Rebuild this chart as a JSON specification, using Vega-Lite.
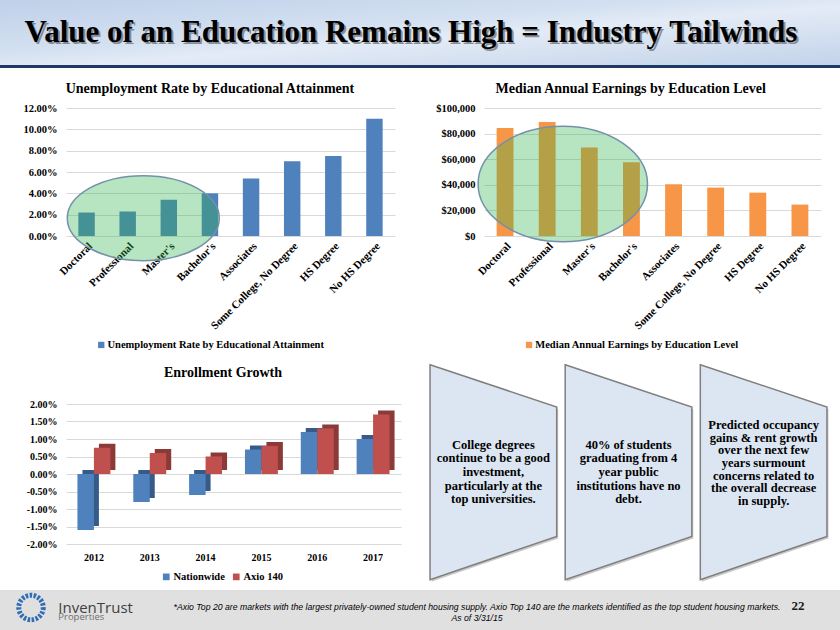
{
  "$schema": "https://vega.github.io/schema/vega-lite/v6.json",
  "padding": 0,
  "autosize": {"type": "pad"},
  "background": "white",
  "spacing": 2,
  "resolve": {"scale": {"color": "independent"}, "legend": {"color": "independent"}},
  "config": {
    "view": {"stroke": null},
    "font": "Liberation Serif",
    "axis": {"labelFont": "Liberation Serif", "labelFontWeight": "bold", "labelColor": "#000000", "domain": false, "ticks": false, "gridColor": "#d9d9d9", "labelFlush": false, "labelOverlap": false},
    "legend": {"labelFont": "Liberation Serif", "labelFontWeight": "bold", "labelColor": "#000000", "padding": 0, "labelLimit": 400},
    "title": {"font": "Liberation Serif", "fontWeight": "bold", "color": "#000000"}
  },
  "vconcat": [
    {
      "width": 774,
      "height": 79,
      "data": {"values": [{"t": "Value of an Education Remains High = Industry Tailwinds"}]},
      "layer": [
        {
          "mark": {"type": "rect", "fill": {"gradient": "linear", "x1": 0, "y1": 0, "x2": 1, "y2": 1, "stops": [{"offset": 0, "color": "#bfd0e9"}, {"offset": 0.4, "color": "#d3e0f1"}, {"offset": 0.55, "color": "#e3ebf6"}, {"offset": 1, "color": "#c3d3ea"}]}},
          "encoding": {
            "x": {"datum": 0, "type": "quantitative", "scale": {"domain": [0.078571, 1], "nice": false, "zero": false}, "axis": null},
            "x2": {"datum": 1},
            "y": {"datum": 0, "type": "quantitative", "scale": {"domain": [0.125397, 0], "nice": false, "zero": false}, "axis": null},
            "y2": {"datum": 0.103175}
          }
        },
        {
          "mark": {"type": "rect", "fill": "#1f3864"},
          "encoding": {
            "x": {"datum": 0, "type": "quantitative"},
            "x2": {"datum": 1},
            "y": {"datum": 0.103175, "type": "quantitative"},
            "y2": {"datum": 0.107937}
          }
        },
        {
          "mark": {"type": "text", "font": "Liberation Serif", "fontWeight": "bold", "fontSize": 31, "align": "center", "baseline": "alphabetic", "color": "#555555", "opacity": 0.6, "dx": 2, "dy": 2},
          "encoding": {
            "x": {"datum": 0.4893, "type": "quantitative"},
            "y": {"datum": 0.066667, "type": "quantitative"},
            "text": {"field": "t"}
          }
        },
        {
          "mark": {"type": "text", "font": "Liberation Serif", "fontWeight": "bold", "fontSize": 31, "align": "center", "baseline": "alphabetic", "color": "#000000"},
          "encoding": {
            "x": {"datum": 0.4893, "type": "quantitative"},
            "y": {"datum": 0.066667, "type": "quantitative"},
            "text": {"field": "t"}
          }
        }
      ]
    },
    {
      "spacing": 25,
      "resolve": {"scale": {"color": "independent"}, "legend": {"color": "independent"}},
      "hconcat": [
        {
          "width": 329,
          "height": 128,
          "title": {"text": "Unemployment Rate by Educational Attainment", "fontSize": 14, "offset": 7.3, "dx": -20.5},
          "data": {"values": [
            {"level": "Doctoral", "rate": 0.022},
            {"level": "Professional", "rate": 0.023},
            {"level": "Master's", "rate": 0.034},
            {"level": "Bachelor's", "rate": 0.040},
            {"level": "Associates", "rate": 0.054},
            {"level": "Some College, No Degree", "rate": 0.070},
            {"level": "HS Degree", "rate": 0.075},
            {"level": "No HS Degree", "rate": 0.110}
          ]},
          "layer": [
            {
              "mark": {"type": "bar"},
              "encoding": {
                "x": {"field": "level", "type": "nominal", "sort": null, "title": null,
                  "scale": {"domain": ["Doctoral", "Professional", "Master's", "Bachelor's", "Associates", "Some College, No Degree", "HS Degree", "No HS Degree"], "paddingInner": 0.6, "paddingOuter": 0.3},
                  "axis": {"labelAngle": -45, "labelFontSize": 11, "labelPadding": 4, "labelOverlap": false}},
                "y": {"field": "rate", "type": "quantitative", "title": null,
                  "scale": {"domain": [0, 0.12], "nice": false},
                  "axis": {"format": ".2%", "values": [0, 0.02, 0.04, 0.06, 0.08, 0.1, 0.12], "labelOverlap": false, "labelFontSize": 10.5, "labelPadding": 9, "minExtent": 66, "maxExtent": 66, "grid": true}},
                "color": {"datum": "Unemployment Rate by Educational Attainment", "scale": {"range": ["#4f81bd"]},
                  "legend": {"orient": "none", "legendX": 22, "legendY": 223.7, "padding": 8, "title": null, "symbolType": "square", "symbolSize": 40, "labelFontSize": 10.5, "labelOffset": 1}}
              }
            },
            {
              "transform": [{"filter": "datum.level === 'Professional'"}],
              "mark": {"type": "point", "shape": "M-1,0A1,0.559,0,1,0,1,0A1,0.559,0,1,0,-1,0Z", "size": 23104, "filled": true, "fill": "#2eb34a", "fillOpacity": 0.34, "stroke": "#7391ab", "strokeWidth": 1.5, "strokeOpacity": 1, "opacity": 1},
              "encoding": {
                "x": {"field": "level", "type": "nominal", "sort": null, "title": null, "bandPosition": 1.449,
                  "scale": {"domain": ["Doctoral", "Professional", "Master's", "Bachelor's", "Associates", "Some College, No Degree", "HS Degree", "No HS Degree"], "paddingInner": 0.6, "paddingOuter": 0.3},
                  "axis": {"labelAngle": -45, "labelFontSize": 11, "labelPadding": 4, "labelOverlap": false}},
                "y": {"datum": 0.0167, "type": "quantitative", "title": null,
                  "scale": {"domain": [0, 0.12], "nice": false},
                  "axis": {"format": ".2%", "values": [0, 0.02, 0.04, 0.06, 0.08, 0.1, 0.12], "labelOverlap": false, "labelFontSize": 10.5, "labelPadding": 9, "minExtent": 66, "maxExtent": 66, "grid": true}}
              }
            }
          ]
        },
        {
          "width": 337,
          "height": 128,
          "title": {"text": "Median Annual Earnings by Education Level", "fontSize": 14, "offset": 7.3, "dx": -21.8},
          "data": {"values": [
            {"level": "Doctoral", "earnings": 84396},
            {"level": "Professional", "earnings": 89128},
            {"level": "Master's", "earnings": 69108},
            {"level": "Bachelor's", "earnings": 57616},
            {"level": "Associates", "earnings": 40404},
            {"level": "Some College, No Degree", "earnings": 37804},
            {"level": "HS Degree", "earnings": 33852},
            {"level": "No HS Degree", "earnings": 24544}
          ]},
          "layer": [
            {
              "mark": {"type": "bar"},
              "encoding": {
                "x": {"field": "level", "type": "nominal", "sort": null, "title": null,
                  "scale": {"domain": ["Doctoral", "Professional", "Master's", "Bachelor's", "Associates", "Some College, No Degree", "HS Degree", "No HS Degree"], "paddingInner": 0.6, "paddingOuter": 0.3},
                  "axis": {"labelAngle": -45, "labelFontSize": 11, "labelPadding": 4, "labelOverlap": false}},
                "y": {"field": "earnings", "type": "quantitative", "title": null,
                  "scale": {"domain": [0, 100000], "nice": false},
                  "axis": {"format": "$,.0f", "values": [0, 20000, 40000, 60000, 80000, 100000], "labelOverlap": false, "labelFontSize": 10.5, "labelPadding": 9, "minExtent": 63.2, "maxExtent": 63.2, "grid": true}},
                "color": {"datum": "Median Annual Earnings by Education Level", "scale": {"range": ["#f79646"]},
                  "legend": {"orient": "none", "legendX": 31.8, "legendY": 223.7, "padding": 8, "title": null, "symbolType": "square", "symbolSize": 40, "labelFontSize": 10.5, "labelOffset": 1}}
              }
            },
            {
              "transform": [{"filter": "datum.level === 'Professional'"}],
              "mark": {"type": "point", "shape": "M-1,0A1,0.681,0,1,0,1,0A1,0.681,0,1,0,-1,0Z", "size": 28700, "filled": true, "fill": "#2eb34a", "fillOpacity": 0.34, "stroke": "#7391ab", "strokeWidth": 1.5, "strokeOpacity": 1, "opacity": 1},
              "encoding": {
                "x": {"field": "level", "type": "nominal", "sort": null, "title": null, "bandPosition": 1.427,
                  "scale": {"domain": ["Doctoral", "Professional", "Master's", "Bachelor's", "Associates", "Some College, No Degree", "HS Degree", "No HS Degree"], "paddingInner": 0.6, "paddingOuter": 0.3},
                  "axis": {"labelAngle": -45, "labelFontSize": 11, "labelPadding": 4, "labelOverlap": false}},
                "y": {"datum": 40625, "type": "quantitative", "title": null,
                  "scale": {"domain": [0, 100000], "nice": false},
                  "axis": {"format": "$,.0f", "values": [0, 20000, 40000, 60000, 80000, 100000], "labelOverlap": false, "labelFontSize": 10.5, "labelPadding": 9, "minExtent": 63.2, "maxExtent": 63.2, "grid": true}}
              }
            }
          ]
        }
      ]
    },
    {
      "spacing": 19,
      "resolve": {"scale": {"color": "independent"}, "legend": {"color": "independent"}},
      "hconcat": [
        {
          "width": 335,
          "height": 140,
          "title": {"text": "Enrollment Growth", "fontSize": 14, "offset": 19.3, "dx": -10.5},
          "data": {"values": [
            {"year": "2012", "series": "Nationwide", "growth": -0.016},
            {"year": "2012", "series": "Axio 140", "growth": 0.0075},
            {"year": "2013", "series": "Nationwide", "growth": -0.008},
            {"year": "2013", "series": "Axio 140", "growth": 0.006},
            {"year": "2014", "series": "Nationwide", "growth": -0.006},
            {"year": "2014", "series": "Axio 140", "growth": 0.005},
            {"year": "2015", "series": "Nationwide", "growth": 0.007},
            {"year": "2015", "series": "Axio 140", "growth": 0.008},
            {"year": "2016", "series": "Nationwide", "growth": 0.012},
            {"year": "2016", "series": "Axio 140", "growth": 0.013},
            {"year": "2017", "series": "Nationwide", "growth": 0.010},
            {"year": "2017", "series": "Axio 140", "growth": 0.017}
          ]},
          "encoding": {
            "x": {"field": "year", "type": "ordinal", "title": null,
              "scale": {"paddingInner": 0.41, "paddingOuter": 0.205},
              "axis": {"labelAngle": 0, "labelFontSize": 10, "labelPadding": 8}},
            "y": {"field": "growth", "type": "quantitative", "title": null,
              "scale": {"domain": [-0.02, 0.02], "nice": false},
              "axis": {"values": [-0.02, -0.015, -0.01, -0.005, 0, 0.005, 0.01, 0.015, 0.02], "labelExpr": "replace(format(datum.value, '.2%'), '\u2212', '-')", "labelOverlap": false, "labelFontSize": 10, "labelPadding": 9, "minExtent": 66, "maxExtent": 66, "grid": true}}
          },
          "resolve": {"scale": {"xOffset": "independent"}},
          "layer": [
            {
              "mark": {"type": "bar", "yOffset": -4},
              "encoding": {
                "xOffset": {"field": "series", "type": "nominal", "sort": ["Nationwide", "Axio 140"], "scale": {"domain": ["Nationwide", "Axio 140"], "paddingInner": 0, "paddingOuter": 0, "range": [5, 37.94]}},
                "fill": {"condition": {"test": "datum.series === 'Nationwide'", "value": "#375b88"}, "value": "#8c3a38"}
              }
            },
            {
              "mark": {"type": "bar"},
              "encoding": {
                "xOffset": {"field": "series", "type": "nominal", "sort": ["Nationwide", "Axio 140"], "scale": {"domain": ["Nationwide", "Axio 140"], "paddingInner": 0, "paddingOuter": 0}},
                "color": {"field": "series", "type": "nominal", "sort": ["Nationwide", "Axio 140"],
                  "scale": {"domain": ["Nationwide", "Axio 140"], "range": ["#4f81bd", "#c0504d"]},
                  "legend": {"orient": "none", "direction": "horizontal", "legendX": 95, "legendY": 167.5, "title": null, "symbolType": "square", "symbolSize": 45, "labelFontSize": 10.5, "labelOffset": 2, "columnPadding": 6}}
              }
            }
          ]
        },
        {
          "width": 417,
          "height": 136.4,
          "data": {"values": [
            {"box": 1, "text": "College degrees\ncontinue to be a good\ninvestment,\nparticularly at the\ntop universities."},
            {"box": 2, "text": "40% of students\ngraduating from 4\nyear public\ninstitutions have no\ndebt."},
            {"box": 3, "text": "Predicted occupancy\ngains & rent growth\nover the next few\nyears surmount\nconcerns related to\nthe overall decrease\nin supply."}
          ]},
          "encoding": {
            "x": {"field": "box", "type": "ordinal", "scale": {"type": "point", "padding": 0.543}, "axis": null}
          },
          "layer": [
            {
              "mark": {"type": "point", "shape": "M-0.589,-1L0.589,-0.607L0.589,0.597L-0.589,1Z", "size": 46225, "filled": true, "fill": "#8a8a8a", "opacity": 0.45, "strokeWidth": 0, "xOffset": 1.5, "yOffset": 2}
            },
            {
              "mark": {"type": "point", "shape": "M-0.589,-1L0.589,-0.607L0.589,0.597L-0.589,1Z", "size": 46225, "filled": true, "fill": "#dce6f2", "stroke": "#7f7f7f", "strokeWidth": 1.5, "opacity": 1}
            },
            {
              "transform": [{"filter": "datum.box < 3"}],
              "mark": {"type": "text", "lineBreak": "\n", "lineHeight": 13.6, "fontSize": 12.5, "fontWeight": "bold", "font": "Liberation Serif", "align": "center", "baseline": "middle", "color": "#000000", "dy": -27.3},
              "encoding": {"text": {"field": "text"}}
            },
            {
              "transform": [{"filter": "datum.box === 3"}],
              "mark": {"type": "text", "lineBreak": "\n", "lineHeight": 12.6, "fontSize": 12.5, "fontWeight": "bold", "font": "Liberation Serif", "align": "center", "baseline": "middle", "color": "#000000", "dy": -47},
              "encoding": {"text": {"field": "text"}}
            }
          ]
        }
      ]
    },
    {
      "width": 774,
      "height": 40,
      "layer": [
        {
          "data": {"values": [{}]},
          "mark": {"type": "rect", "fill": "#e0e0e0"},
          "encoding": {
            "x": {"datum": 0, "type": "quantitative", "scale": {"domain": [0.078571, 1], "nice": false, "zero": false}, "axis": null},
            "x2": {"datum": 1},
            "y": {"datum": 0.936508, "type": "quantitative", "scale": {"domain": [1, 0.936508], "nice": false, "zero": false}, "axis": null},
            "y2": {"datum": 1}
          }
        },
        {
          "data": {"values": [{}]},
          "mark": {"type": "point", "shape": "circle", "size": 600, "filled": false, "stroke": "#2f6db5", "strokeWidth": 5, "strokeDash": [2.5, 1.5], "opacity": 1},
          "encoding": {
            "x": {"datum": 0.0369, "type": "quantitative"},
            "y": {"datum": 0.9643, "type": "quantitative"}
          }
        },
        {
          "data": {"values": [{"t": "InvenTrust"}]},
          "mark": {"type": "text", "font": "Open Sans", "fontSize": 15, "align": "left", "baseline": "alphabetic", "color": "#3f3f3f"},
          "encoding": {
            "x": {"datum": 0.0694, "type": "quantitative"},
            "y": {"datum": 0.97254, "type": "quantitative"},
            "text": {"field": "t"}
          }
        },
        {
          "data": {"values": [{"t": "Properties"}]},
          "mark": {"type": "text", "font": "Open Sans", "fontSize": 9.5, "align": "left", "baseline": "alphabetic", "color": "#6f6f6f"},
          "encoding": {
            "x": {"datum": 0.0694, "type": "quantitative"},
            "y": {"datum": 0.98492, "type": "quantitative"},
            "text": {"field": "t"}
          }
        },
        {
          "data": {"values": [{"t": "*Axio Top 20 are markets with the largest privately-owned student housing supply. Axio Top 140 are the markets identified as the top student housing markets.\nAs of 3/31/15"}]},
          "mark": {"type": "text", "font": "Liberation Sans", "fontStyle": "italic", "fontSize": 8.7, "align": "center", "baseline": "alphabetic", "lineBreak": "\n", "lineHeight": 11, "color": "#000000"},
          "encoding": {
            "x": {"datum": 0.5679, "type": "quantitative"},
            "y": {"datum": 0.96825, "type": "quantitative"},
            "text": {"field": "t"}
          }
        },
        {
          "data": {"values": [{"t": "22"}]},
          "mark": {"type": "text", "font": "Liberation Serif", "fontWeight": "bold", "fontSize": 13, "align": "center", "baseline": "alphabetic", "color": "#1a1a1a"},
          "encoding": {
            "x": {"datum": 0.95, "type": "quantitative"},
            "y": {"datum": 0.96825, "type": "quantitative"},
            "text": {"field": "t"}
          }
        }
      ]
    }
  ]
}
